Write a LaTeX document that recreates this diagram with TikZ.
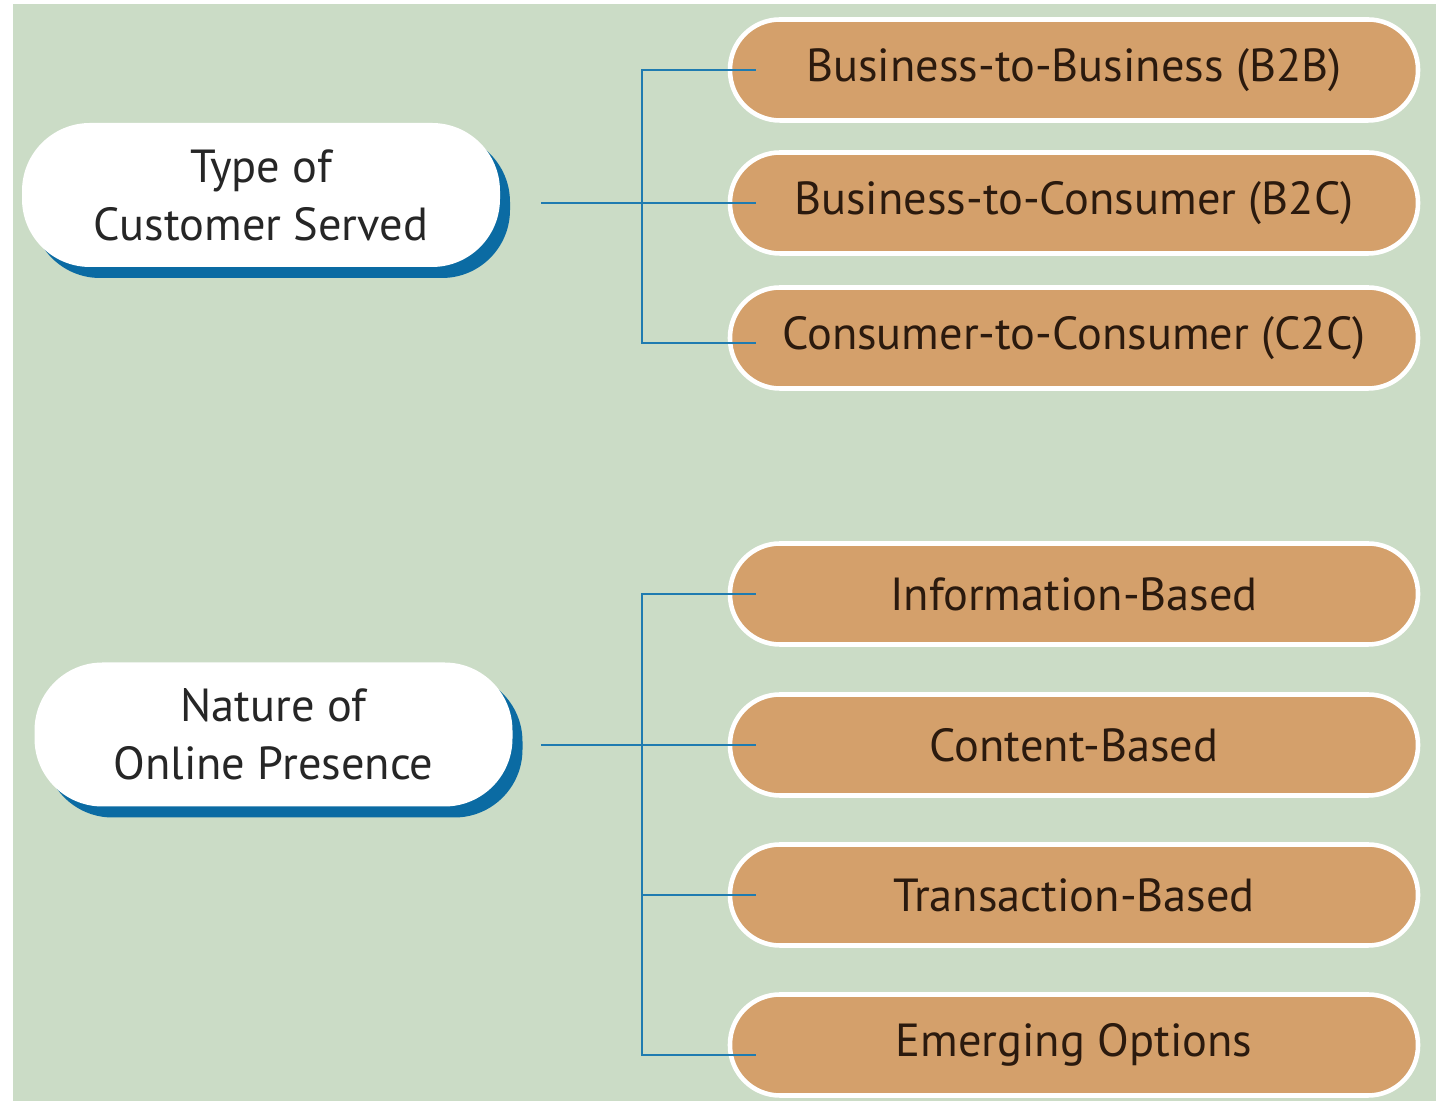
\documentclass[tikz,border=0pt]{standalone}
\usepackage{fontspec}
\setmainfont{PT Sans}
\usetikzlibrary{shadows}

\definecolor{bggreen}{HTML}{CBDCC6}
\definecolor{pillorange}{HTML}{D4A06B}
\definecolor{pilltext}{HTML}{2B1A0E}
\definecolor{shadowblue}{HTML}{0B6BA3}
\definecolor{linkblue}{HTML}{1F7BB0}

\begin{document}
\begin{tikzpicture}[
	cat/.style={fill=white, rounded corners=0.68cm, minimum width=4.78cm, minimum height=1.44cm,
		align=center, text=black!85, font=\fontsize{13.2}{16.5}\selectfont,
		drop shadow={shadow xshift=0.1cm, shadow yshift=-0.11cm, fill=shadowblue, opacity=1}},
	pill/.style={fill=pillorange, draw=white, line width=1.3pt, rounded corners=0.5cm,
		minimum width=6.88cm, minimum height=1.01cm, text=pilltext, font=\fontsize{13.2}{16.5}\selectfont},
	link/.style={draw=linkblue, line width=0.7pt}
]
	%\draw[help lines] (0,0) grid (14,-11);
	\useasboundingbox (0,0) rectangle (14.40,-11.01);
	\fill[bggreen] (0.13,-0.04) rectangle (14.36,-11.01);

	% main categories
	\node[cat] (tcs) at (2.61,-1.95) {Type of\\Customer Served};
	\node[cat] (nop) at (2.735,-7.345) {Nature of\\Online Presence};

	% customer types
	\node[pill] (b2b) at (10.74,-0.70) {Business-to-Business (B2B)};
	\node[pill] (b2c) at (10.74,-2.03) {Business-to-Consumer (B2C)};
	\node[pill] (c2c) at (10.74,-3.38) {Consumer-to-Consumer (C2C)};

	% online presence
	\node[pill] (info) at (10.74,-5.94) {Information-Based};
	\node[pill] (cont) at (10.74,-7.45) {Content-Based};
	\node[pill] (trans) at (10.74,-8.95) {Transaction-Based};
	\node[pill] (emerg) at (10.74,-10.45) {Emerging Options};

	\coordinate (s1) at (5.41,-2.03);
	\coordinate (j1) at (6.42,-2.03);
	\coordinate (s2) at (5.41,-7.45);
	\coordinate (j2) at (6.42,-7.45);

	\draw[link] (s1) -- ([xshift=2.8mm]b2c.west);
	\draw[link] ([xshift=2.8mm]b2b.west) -| ([yshift=-0.5mm]c2c.west -| j1) -- ([xshift=2.8mm,yshift=-0.5mm]c2c.west);

	\draw[link] (s2) -- ([xshift=2.8mm]cont.west);
	\draw[link] ([xshift=2.8mm]info.west) -| ([yshift=-1mm]emerg.west -| j2) -- ([xshift=2.8mm,yshift=-1mm]emerg.west);
	\draw[link] (trans.west -| j2) -- ([xshift=2.8mm]trans.west);
\end{tikzpicture}
\end{document}
